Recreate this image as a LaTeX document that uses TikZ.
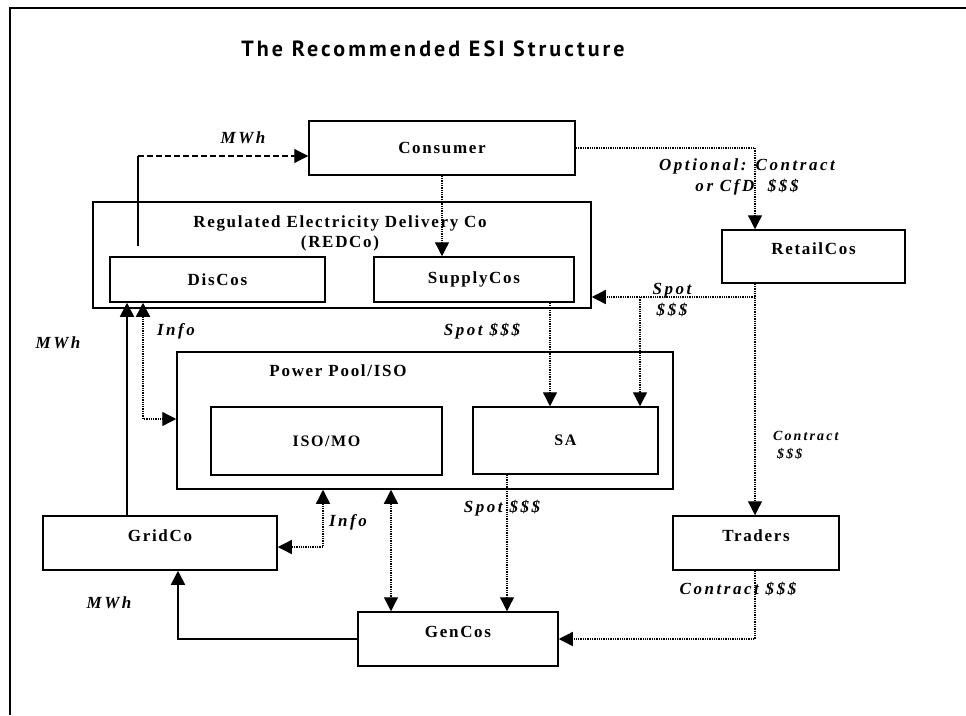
\documentclass[tikz,border=0pt]{standalone}
\usepackage{fontspec}
\setmainfont{Liberation Serif}
\newfontfamily\boxfont[LetterSpace=10]{Liberation Serif}
\newfontfamily\labfont[LetterSpace=15]{Liberation Serif}
\newfontfamily\titlefont[LetterSpace=14]{PT Sans}
\usetikzlibrary{arrows.meta,calc}
\tikzset{
  box/.style={draw, line width=1.5pt, rectangle, inner sep=0pt,
    font=\boxfont\bfseries\fontsize{17}{20}\selectfont},
  smallbox/.style={box, font=\boxfont\bfseries\fontsize{16}{19}\selectfont},
  uptext/.style={text height=12pt, text depth=16pt},
  boxtitle/.style={inner sep=0pt, align=center,
    font=\boxfont\bfseries\fontsize{17}{20}\selectfont},
  lab/.style={inner sep=0pt, align=center,
    font=\labfont\bfseries\itshape\fontsize{17}{21}\selectfont},
  smalllab/.style={inner sep=0pt, align=left,
    font=\labfont\bfseries\itshape\fontsize{14}{18}\selectfont},
  dotl/.style={densely dotted, line width=1.3pt},
  dashl/.style={dash pattern=on 6pt off 3pt, line width=1.2pt},
  sol/.style={line width=1.6pt},
  arr/.style={-{Triangle[length=14pt,width=14pt]}},
  darr/.style={{Triangle[length=14pt,width=14pt]}-{Triangle[length=14pt,width=14pt]}}
}
\begin{document}
\begin{tikzpicture}[x=1pt,y=-1pt]
\useasboundingbox (0,0) rectangle (966,715);
% frame
\draw[line width=1.6pt] (10,715) -- (10,8) -- (966,8);
% title
\node[inner sep=0pt, font=\titlefont\bfseries\fontsize{22}{26}\selectfont] (title) at (433,49) {The Recommended ESI Structure};

% boxes
\node[box, minimum width=266pt, minimum height=54pt] (consumer) at (442,148) {Consumer};
\node[box, minimum width=498pt, minimum height=106pt] (redco) at (342,255) {};
\node[boxtitle] (redcot) at (340,233) {Regulated Electricity Delivery Co\\(REDCo)};
\node[box, minimum width=215pt, minimum height=45pt] (discos) at (217.5,279.5) {DisCos};
\node[box, minimum width=200pt, minimum height=45pt] (supply) at (474,279.5) {SupplyCos};
\node[box, uptext, minimum width=183pt, minimum height=53pt] (retail) at (813.5,256.5) {RetailCos};
\node[box, minimum width=496pt, minimum height=137pt] (pool) at (425,420.5) {};
\node[boxtitle] (poolt) at (338,371) {Power Pool/ISO};
\node[smallbox, minimum width=231pt, minimum height=68pt] (isomo) at (326.5,441) {ISO/MO};
\node[smallbox, minimum width=185pt, minimum height=67pt] (sa) at (565.5,440.5) {SA};
\node[box, uptext, minimum width=234pt, minimum height=54pt] (gridco) at (160,543) {GridCo};
\node[box, uptext, minimum width=166pt, minimum height=54pt] (traders) at (756,543) {Traders};
\node[box, uptext, minimum width=200pt, minimum height=54pt] (gencos) at (458,639) {GenCos};

% helper coordinates
\coordinate (m1) at (138,156);
\coordinate (rx) at (755,0);
\coordinate (sj) at (755,297);
\coordinate (sb) at (640,297);
\coordinate (s2) at (550,0);
\coordinate (g1) at (127,0);
\coordinate (i1) at (143,419);
\coordinate (i2) at (323,547);
\coordinate (p3) at (391,0);
\coordinate (p4) at (507,0);
\coordinate (g2) at (178,0);

% connectors
\draw[sol, shorten <=10pt] (m1 |- discos.north) -- (m1);
\draw[dashl, arr] (m1) -- (m1 -| consumer.west);
\draw[dotl, arr] (consumer.south) -- (consumer.south |- supply.north);
\draw[dotl, arr] (consumer.east) -| (rx |- retail.north);
\draw[dotl, arr] (rx |- retail.south) -- (rx |- traders.north);
\draw[dotl, arr] (sj) -- (sj -| redco.east);
\draw[dotl, arr] (sb) -- (sb |- sa.north);
\draw[dotl, arr] (s2 |- supply.south) -- (s2 |- sa.north);
\draw[sol, arr] (g1 |- gridco.north) -- (g1 |- discos.south);
\draw[dotl, darr] (i1 |- discos.south) -- (i1) -- (i1 -| pool.west);
\draw[dotl, darr] (i2 |- pool.south) -- (i2) -- (i2 -| gridco.east);
\draw[dotl, darr] (p3 |- pool.south) -- (p3 |- gencos.north);
\draw[dotl, arr] (p4 |- sa.south) -- (p4 |- gencos.north);
\draw[dotl, arr] (rx |- traders.south) |- (gencos.east);
\draw[sol, arr] (gencos.west) -| (g2 |- gridco.south);

% labels
\node[lab] (l1) at (243,138) {MWh};
\node[lab] (l2) at (747,177) {Optional: Contract\\or CfD\ \ \$\$\$};
\node[lab] (l3) at (672,300) {Spot\\\$\$\$};
\node[lab] (l4) at (176,331) {Info};
\node[lab] (l5) at (58,343) {MWh};
\node[lab] (l6) at (482,331) {Spot \$\$\$};
\node[smalllab, anchor=west] (l7) at (773,445) {Contract\\\hspace*{4pt}\$\$\$};
\node[lab] (l8) at (348,522) {Info};
\node[lab] (l9) at (502,508) {Spot \$\$\$};
\node[lab] (l10) at (109,603) {MWh};
\node[lab] (l11) at (738,589) {Contract \$\$\$};
\end{tikzpicture}
\end{document}
